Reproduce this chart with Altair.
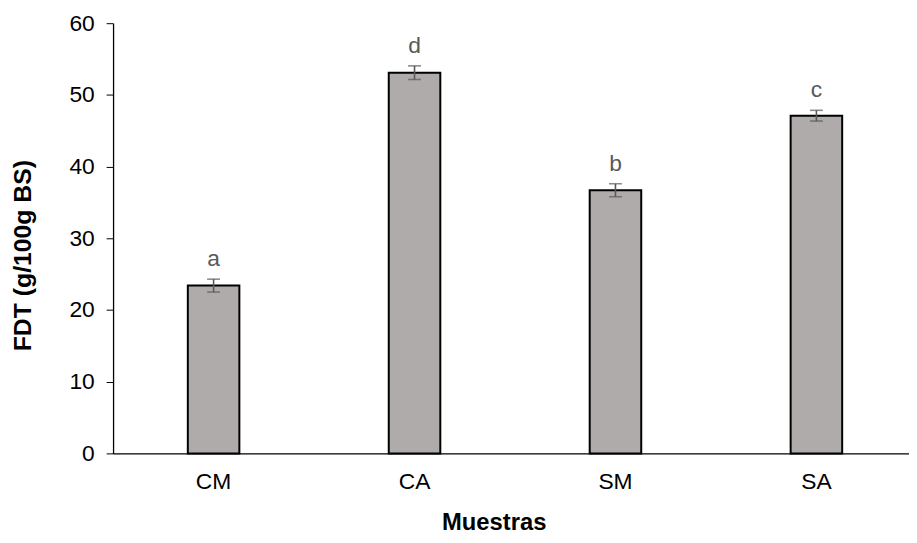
import altair as alt
import pandas as pd

samples = ["CM", "CA", "SM", "SA"]
means = [23.4, 53.1, 36.7, 47.1]
sds = [0.9, 0.95, 0.9, 0.75]
letters = ["a", "d", "b", "c"]

df = pd.DataFrame({"sample": samples, "mean": means, "sd": sds, "letter": letters})
df["lo"] = df["mean"] - df["sd"]
df["hi"] = df["mean"] + df["sd"]

FONT = "Liberation Sans"

xscale = alt.Scale(range=[0, 811], paddingInner=0.7435, paddingOuter=0.372)
xenc = alt.X(
    "sample:N", sort=samples, scale=xscale,
    axis=alt.Axis(
        title="Muestras", labelAngle=0, ticks=False, labelPadding=17,
        labelFontSize=23, labelFont=FONT, labelColor="black",
        domainColor="black", domainWidth=1.3,
        titleFont=FONT, titleFontSize=24, titleFontWeight="bold", titleColor="black",
        titleX=384, titleY=77, titleAlign="center", titleBaseline="alphabetic",
    ),
)
yscale = alt.Scale(domain=[0, 60], nice=False)
yaxis = alt.Axis(
    title="FDT (g/100g BS)", values=[0, 10, 20, 30, 40, 50, 60], grid=False,
    tickSize=7, tickColor="black", labelPadding=12, labelFontSize=23, labelFont=FONT,
    labelColor="black", domainColor="black", domainWidth=1.3,
    titleFont=FONT, titleFontSize=25, titleFontWeight="bold", titleColor="black",
    titleX=-91, titleY=234, titleAngle=-90, titleAlign="center", titleBaseline="middle",
)

base = alt.Chart(df)

bars = base.mark_bar(fill="#AFABAB", stroke="black", strokeWidth=2).encode(
    x=xenc, y=alt.Y("mean:Q", scale=yscale, axis=yaxis)
)
rule = base.mark_rule(color="#595959", strokeWidth=1.6).encode(
    x=alt.X("sample:N", sort=samples), y="lo:Q", y2="hi:Q"
)
cap_lo = base.mark_tick(color="#595959", orient="horizontal", size=13, thickness=1.6).encode(
    x=alt.X("sample:N", sort=samples), y="lo:Q"
)
cap_hi = base.mark_tick(color="#595959", orient="horizontal", size=13, thickness=1.6).encode(
    x=alt.X("sample:N", sort=samples), y="hi:Q"
)
labels = base.mark_text(
    font=FONT, fontSize=23, color="#595959", baseline="bottom", dy=-8
).encode(x=alt.X("sample:N", sort=samples), y="hi:Q", text="letter:N")

chart = alt.layer(bars, rule, cap_lo, cap_hi, labels).properties(
    width=800, height=434,
    autosize=alt.AutoSizeParams(type="none"),
    padding={"left": 106, "top": 13, "right": 3, "bottom": 80},
).configure_view(stroke=None)

chart.save("out.html", embed_options={"renderer": "svg", "actions": False})
